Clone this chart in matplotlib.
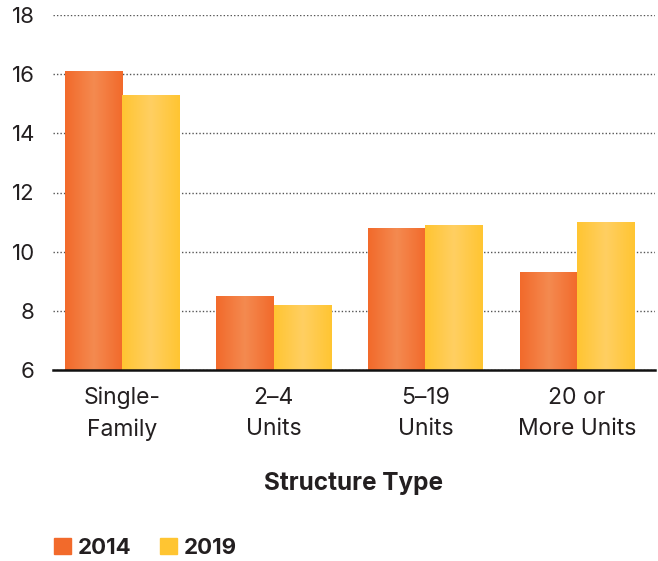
# -----------------------------------------------------------------------------
# Structure type bar chart, 2014 vs 2019
# plot.py

import numpy as np
import matplotlib.pyplot as plt
from matplotlib.patches import Patch
from matplotlib.colors import to_rgb


# ---
# Data.
categories = ["Single-\nFamily", "2\u20134\nUnits", "5\u201319\nUnits", "20 or\nMore Units"]
years = ["2014", "2019"]
values_2014 = [16.1, 8.5, 10.8, 9.3]
values_2019 = [15.3, 8.2, 10.9, 11.0]
y_ticks = [6, 8, 10, 12, 14, 16, 18]

# Colours: edge colour and lighter centre colour for the gradient.
dark = {"2014": "#F26A2B", "2019": "#FFC532"}
light = {"2014": "#F48A50", "2019": "#FFCF62"}
text_col = "#231F20"

plt.rcParams['font.family'] = ['Inter', 'DejaVu Sans']


# ---
fig = plt.figure(figsize=(6.58, 5.61), dpi=100)
ax = fig.add_axes([53 / 658, 1 - 370 / 561, 602 / 658, 355 / 561])

x = np.arange(len(categories))
width = 0.378


def gradient_bars(bars, c_dark, c_light):
    # Fill every bar with a horizontal gradient, lighter towards the middle.
    d = np.array(to_rgb(c_dark))
    l = np.array(to_rgb(c_light))
    t = np.linspace(0, 1, 64)
    w = 1 - np.abs(t - 0.5) * 2
    row = d[None, :] + (l - d)[None, :] * w[:, None]
    img = row[None, :, :]
    for b in bars:
        x0, y0 = b.get_x(), b.get_y()
        im = ax.imshow(img, extent=[x0, x0 + b.get_width(), y0, y0 + b.get_height()],
                       aspect='auto', zorder=2, interpolation='bilinear')
        im.set_clip_path(b)
        b.set_facecolor('none')


bars_a = ax.bar(x - width / 2, np.array(values_2014) - 6, width, bottom=6,
                color=dark["2014"], zorder=2, linewidth=0)
bars_b = ax.bar(x + width / 2, np.array(values_2019) - 6, width, bottom=6,
                color=dark["2019"], zorder=2, linewidth=0)
gradient_bars(bars_a, dark["2014"], light["2014"])
gradient_bars(bars_b, dark["2019"], light["2019"])

ax.set_xlim(-0.454, 3.513)
ax.set_ylim(6, 18)
ax.set_yticks(y_ticks)
ax.set_yticklabels([str(v) for v in y_ticks], fontsize=16, color=text_col)
ax.set_xticks(x)
ax.set_xticklabels(categories, fontsize=16.5, color=text_col, linespacing=1.55)
ax.tick_params(axis='both', length=0)
ax.tick_params(axis='y', pad=13)
ax.tick_params(axis='x', pad=12)

ax.yaxis.grid(True, color='#555555', linestyle=(0, (1, 1.5)), linewidth=1)
ax.set_axisbelow(True)
for s in ["top", "right", "left"]:
    ax.spines[s].set_visible(False)
ax.spines["bottom"].set_color("#111111")
ax.spines["bottom"].set_linewidth(1.8)
ax.spines["bottom"].set_zorder(3)

ax.set_xlabel("Structure Type", fontsize=17.5, fontweight='bold', color=text_col,
              labelpad=22)

handles = [Patch(color=dark[y]) for y in years]
leg = fig.legend(handles, years, loc='lower left', bbox_to_anchor=(0.052, -0.03),
                 ncol=2, frameon=False, handlelength=0.75, handleheight=0.75,
                 handletextpad=0.3, columnspacing=1.3, fontsize=16)
for t in leg.get_texts():
    t.set_fontweight('bold')
    t.set_color(text_col)

plt.savefig("out.png", dpi=100)
